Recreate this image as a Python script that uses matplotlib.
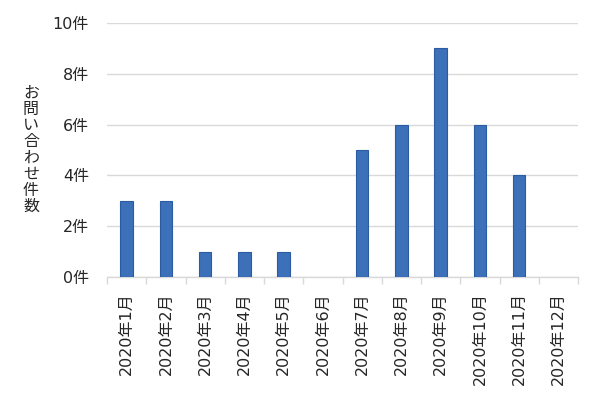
import matplotlib
matplotlib.use("Agg")
import matplotlib.pyplot as plt
import numpy as np

plt.rcParams['font.family'] = ['DejaVu Sans', 'Noto Sans CJK JP']

categories = ["2020年1月", "2020年2月", "2020年3月", "2020年4月", "2020年5月", "2020年6月",
              "2020年7月", "2020年8月", "2020年9月", "2020年10月", "2020年11月", "2020年12月"]
values = [3, 3, 1, 1, 1, 0, 5, 6, 9, 6, 4, 0]
yticks = [0, 2, 4, 6, 8, 10]
ytick_labels = [f"{v}件" for v in yticks]
ylabel = "お問い合わせ件数"

fig = plt.figure(figsize=(6.0, 3.99), dpi=100)
ax = fig.add_axes([107/600, 1-277/399, (578-107)/600, (277-23)/399])

x = np.arange(len(categories))
lw = [0.8 if v > 0 else 0 for v in values]
ax.bar(x, values, width=0.32, color='#3c70b8', edgecolor='#2b5ca3', linewidth=lw, zorder=3)

ax.set_xlim(-0.5, len(categories)-0.5)
ax.set_ylim(0, 10)
ax.set_yticks(yticks)
ax.set_yticklabels(ytick_labels, fontsize=11.5, color='#262626')
ax.yaxis.grid(True, color='#d9d9d9', linewidth=1.0, zorder=0)
ax.tick_params(axis='y', length=0, pad=13)

ax.set_xticks(x)
ax.set_xticklabels(categories, rotation=90, fontsize=11.5, color='#262626', va='top')
ax.set_xticks(np.arange(-0.5, len(categories)), minor=True)
ax.tick_params(axis='x', which='major', length=0, pad=11)
ax.tick_params(axis='x', which='minor', length=5, color='#d9d9d9', width=1)

for s in ['top', 'right', 'left']:
    ax.spines[s].set_visible(False)
ax.spines['bottom'].set_color('#d9d9d9')
ax.spines['bottom'].set_linewidth(1.0)

fig.text(31/600, 1-150/399, "\n".join(ylabel), ha='center', va='center',
         fontsize=11.5, color='#262626', linespacing=1.1)

fig.savefig("out.png", dpi=100)
